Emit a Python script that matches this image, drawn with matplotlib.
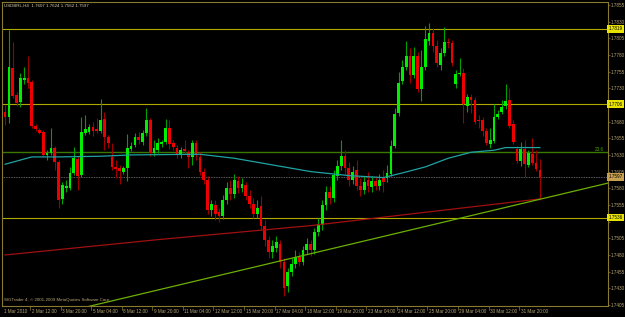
import numpy as np
import matplotlib.pyplot as plt
from matplotlib.transforms import blended_transform_factory

plt.rcParams['font.family'] = ['Liberation Sans', 'DejaVu Sans']

# chart data (USDBRL H4, March 2010)
symbol = "USDBRL,H4"
ohlc_text = "1.7607 1.7624 1.7562 1.7597"

opens = [1.7695, 1.7687, 1.7761, 1.7720, 1.7710, 1.7743, 1.7746, 1.7740, 1.7674, 1.7668,
         1.7665, 1.7630, 1.7633, 1.7641, 1.7620, 1.7564, 1.7581, 1.7581, 1.7603, 1.7624,
         1.7600, 1.7663, 1.7665, 1.7672, 1.7669, 1.7666, 1.7684, 1.7657, 1.7627, 1.7612,
         1.7611, 1.7605, 1.7611, 1.7639, 1.7645, 1.7657, 1.7650, 1.7663, 1.7683, 1.7633,
         1.7638, 1.7647, 1.7650, 1.7671, 1.7648, 1.7641, 1.7630, 1.7639, 1.7635, 1.7627,
         1.7648, 1.7627, 1.7605, 1.7593, 1.7548, 1.7555, 1.7545, 1.7539, 1.7563, 1.7581,
         1.7572, 1.7591, 1.7581, 1.7585, 1.7569, 1.7557, 1.7542, 1.7554, 1.7524, 1.7503,
         1.7485, 1.7491, 1.7497, 1.7470, 1.7434, 1.7455, 1.7467, 1.7477, 1.7470, 1.7488,
         1.7497, 1.7488, 1.7515, 1.7525, 1.7555, 1.7575, 1.7566, 1.7599, 1.7614, 1.7629,
         1.7611, 1.7593, 1.7608, 1.7584, 1.7578, 1.7593, 1.7582, 1.7591, 1.7584, 1.7597,
         1.7596, 1.7602, 1.7644, 1.7693, 1.7741, 1.7762, 1.7779, 1.7750, 1.7779, 1.7729,
         1.7762, 1.7801, 1.7813, 1.7794, 1.7765, 1.7783, 1.7800, 1.7798, 1.7737, 1.7752,
         1.7753, 1.7704, 1.7717, 1.7713, 1.7683, 1.7683, 1.7666, 1.7647, 1.7651, 1.7687,
         1.7695, 1.7704, 1.7713, 1.7677, 1.7639, 1.7621, 1.7639, 1.7615, 1.7632, 1.7618,
         1.7607]
highs = [1.7705, 1.7818, 1.7800, 1.7725, 1.7753, 1.7762, 1.7779, 1.7743, 1.7677, 1.7671,
         1.7668, 1.7638, 1.7671, 1.7644, 1.7623, 1.7590, 1.7593, 1.7612, 1.7642, 1.7629,
         1.7687, 1.7690, 1.7677, 1.7680, 1.7686, 1.7714, 1.7695, 1.7660, 1.7648, 1.7623,
         1.7615, 1.7614, 1.7662, 1.7650, 1.7663, 1.7665, 1.7668, 1.7701, 1.7686, 1.7653,
         1.7656, 1.7653, 1.7684, 1.7683, 1.7653, 1.7645, 1.7642, 1.7653, 1.7638, 1.7653,
         1.7653, 1.7635, 1.7611, 1.7599, 1.7563, 1.7563, 1.7551, 1.7570, 1.7590, 1.7593,
         1.7602, 1.7599, 1.7596, 1.7590, 1.7578, 1.7566, 1.7563, 1.7569, 1.7533, 1.7509,
         1.7503, 1.7509, 1.7503, 1.7476, 1.7461, 1.7476, 1.7488, 1.7485, 1.7494, 1.7506,
         1.7503, 1.7521, 1.7536, 1.7563, 1.7584, 1.7584, 1.7608, 1.7623, 1.7653, 1.7638,
         1.7620, 1.7614, 1.7623, 1.7596, 1.7599, 1.7605, 1.7599, 1.7599, 1.7602, 1.7608,
         1.7615, 1.7653, 1.7701, 1.7755, 1.7773, 1.7801, 1.7791, 1.7792, 1.7785, 1.7788,
         1.7824, 1.7828, 1.7821, 1.7803, 1.7791, 1.7822, 1.7806, 1.7803, 1.7758, 1.7776,
         1.7761, 1.7722, 1.7722, 1.7717, 1.7690, 1.7687, 1.7671, 1.7671, 1.7707, 1.7698,
         1.7713, 1.7737, 1.7731, 1.7683, 1.7644, 1.7650, 1.7653, 1.7638, 1.7656, 1.7638,
         1.7624]
lows = [1.7675, 1.7678, 1.7716, 1.7704, 1.7702, 1.7737, 1.7731, 1.7671, 1.7666, 1.7662,
        1.7627, 1.7623, 1.7630, 1.7608, 1.7551, 1.7557, 1.7575, 1.7578, 1.7600, 1.7578,
        1.7597, 1.7660, 1.7662, 1.7659, 1.7663, 1.7663, 1.7638, 1.7641, 1.7608, 1.7596,
        1.7587, 1.7602, 1.7591, 1.7636, 1.7642, 1.7647, 1.7645, 1.7659, 1.7629, 1.7629,
        1.7633, 1.7642, 1.7647, 1.7639, 1.7638, 1.7626, 1.7626, 1.7633, 1.7611, 1.7615,
        1.7623, 1.7600, 1.7587, 1.7542, 1.7539, 1.7533, 1.7530, 1.7534, 1.7557, 1.7563,
        1.7566, 1.7573, 1.7575, 1.7563, 1.7551, 1.7536, 1.7536, 1.7518, 1.7494, 1.7476,
        1.7476, 1.7485, 1.7461, 1.7419, 1.7425, 1.7449, 1.7461, 1.7464, 1.7465, 1.7482,
        1.7479, 1.7482, 1.7509, 1.7518, 1.7548, 1.7557, 1.7560, 1.7593, 1.7608, 1.7602,
        1.7584, 1.7587, 1.7578, 1.7569, 1.7572, 1.7575, 1.7575, 1.7578, 1.7578, 1.7575,
        1.7590, 1.7599, 1.7641, 1.7689, 1.7737, 1.7758, 1.7738, 1.7746, 1.7725, 1.7711,
        1.7758, 1.7795, 1.7785, 1.7762, 1.7758, 1.7779, 1.7791, 1.7764, 1.7731, 1.7749,
        1.7678, 1.7695, 1.7693, 1.7677, 1.7671, 1.7659, 1.7645, 1.7641, 1.7648, 1.7684,
        1.7692, 1.7699, 1.7671, 1.7647, 1.7618, 1.7614, 1.7597, 1.7612, 1.7615, 1.7606,
        1.7562]
closes = [1.7687, 1.7762, 1.7719, 1.7708, 1.7746, 1.7746, 1.7738, 1.7674, 1.7669, 1.7663,
          1.7630, 1.7633, 1.7641, 1.7620, 1.7563, 1.7585, 1.7584, 1.7603, 1.7626, 1.7599,
          1.7665, 1.7669, 1.7672, 1.7666, 1.7666, 1.7683, 1.7657, 1.7648, 1.7612, 1.7609,
          1.7606, 1.7611, 1.7641, 1.7644, 1.7657, 1.7653, 1.7663, 1.7683, 1.7633, 1.7641,
          1.7648, 1.7650, 1.7671, 1.7647, 1.7642, 1.7630, 1.7638, 1.7636, 1.7627, 1.7648,
          1.7630, 1.7605, 1.7593, 1.7548, 1.7557, 1.7542, 1.7539, 1.7563, 1.7581, 1.7572,
          1.7593, 1.7581, 1.7587, 1.7569, 1.7557, 1.7542, 1.7551, 1.7524, 1.7503, 1.7485,
          1.7494, 1.7500, 1.7470, 1.7431, 1.7455, 1.7467, 1.7477, 1.7470, 1.7488, 1.7497,
          1.7488, 1.7515, 1.7527, 1.7555, 1.7575, 1.7566, 1.7600, 1.7614, 1.7629, 1.7611,
          1.7593, 1.7605, 1.7584, 1.7578, 1.7590, 1.7584, 1.7591, 1.7584, 1.7593, 1.7590,
          1.7603, 1.7644, 1.7692, 1.7738, 1.7762, 1.7779, 1.7750, 1.7779, 1.7729, 1.7762,
          1.7804, 1.7813, 1.7794, 1.7768, 1.7783, 1.7800, 1.7798, 1.7768, 1.7752, 1.7753,
          1.7707, 1.7717, 1.7713, 1.7680, 1.7681, 1.7666, 1.7648, 1.7653, 1.7687, 1.7692,
          1.7702, 1.7711, 1.7674, 1.7650, 1.7621, 1.7639, 1.7617, 1.7633, 1.7618, 1.7609,
          1.7597]

time_labels = ["1 Mar 2010", "2 Mar 12:00", "3 Mar 20:00", "5 Mar 04:00", "8 Mar 12:00",
               "9 Mar 20:00", "11 Mar 04:00", "12 Mar 12:00", "15 Mar 20:00", "17 Mar 04:00",
               "18 Mar 12:00", "19 Mar 20:00", "23 Mar 04:00", "24 Mar 12:00", "25 Mar 20:00",
               "29 Mar 04:00", "30 Mar 12:00", "31 Mar 20:00"]
price_ticks = [1.7855, 1.7830, 1.7805, 1.7780, 1.7755, 1.7730, 1.7705, 1.7680, 1.7655, 1.7630,
               1.7605, 1.7580, 1.7555, 1.7530, 1.7505, 1.7480, 1.7455, 1.7430, 1.7405]

# horizontal levels, fibo line, bid
levels = [1.7819, 1.7706, 1.7536]
fib_level = 1.7634
bid = 1.7597

# moving averages (bar index, price) and trendline anchors
ma_fast_x = [0, 7, 14, 25, 33, 51, 60, 70, 80, 90, 99, 104, 110, 116, 122, 128, 131, 140]
ma_fast_y = [1.7616, 1.7627, 1.7627, 1.7628, 1.7630, 1.7631, 1.7625, 1.7615, 1.7605, 1.7599,
             1.7596, 1.7603, 1.7612, 1.7625, 1.7634, 1.7637, 1.7641, 1.7641]
ma_slow_x = [0, 40, 80, 116, 140]
ma_slow_y = [1.7480, 1.7503, 1.7524, 1.7548, 1.7564]
trend_x = [22, 158]
trend_y = [1.7403, 1.7588]

frame_col = '#8a7a30'
text_col = '#b8a674'
fs = 3.3

fig = plt.figure(figsize=(6.25, 3.17), dpi=100, facecolor='black')
ax = fig.add_axes([2 / 625, 11 / 317, 605.5 / 625, 304.5 / 317])
ax.set_facecolor('black')

o = np.array(opens)
h = np.array(highs)
l = np.array(lows)
c = np.array(closes)
x = np.arange(len(o))
up = c >= o

# levels
for lv in levels:
    ax.axhline(lv, color='#b0aa00', lw=0.8, zorder=1)
ax.axhline(fib_level, color='#3c7800', lw=1.0, zorder=1)
ax.axhline(bid, color='#7a7a7a', lw=0.6, ls=(0, (1, 1)), zorder=1)

# candles
ax.vlines(x, l, h, colors=np.where(up, '#00a000', '#9a0000'), lw=0.8, zorder=2)
ax.bar(x, np.maximum(np.abs(c - o), 0.0001), bottom=np.minimum(o, c), width=0.72,
       color=np.where(up, '#00ee00', '#ee0000'), linewidth=0, zorder=3)

# indicators
ax.plot(ma_fast_x, ma_fast_y, color='#1fa3a3', lw=0.9, zorder=4)
ax.plot(ma_slow_x, ma_slow_y, color='#a01010', lw=0.9, zorder=4)
ax.plot(trend_x, trend_y, color='#6cb000', lw=0.9, zorder=4)

ax.set_xlim(-0.8, 157.7)
ax.set_ylim(1.74035, 1.7860)

for sp in ax.spines.values():
    sp.set_color(frame_col)
    sp.set_linewidth(0.8)

# price scale on the right; labels hidden under the level boxes are left blank
ax.yaxis.tick_right()
ax.set_yticks(price_ticks)
tick_text = []
for p in price_ticks:
    hidden = any(abs(p - lv) < 0.0008 for lv in levels)
    tick_text.append("" if hidden else f"{p:.4f}")
ax.set_yticklabels(tick_text)
ax.tick_params(axis='y', colors=frame_col, labelcolor=text_col, labelsize=fs,
               length=1.5, width=0.5, pad=0.8)
ax.set_xticks([])

# highlighted price labels
ytrans = blended_transform_factory(ax.transAxes, ax.transData)
for lv in levels:
    ax.text(1.002, lv, f"{lv:.4f}", transform=ytrans, ha='left', va='center', fontsize=fs,
            color='black', clip_on=False, zorder=6,
            bbox=dict(boxstyle='square,pad=0.3', fc='#e8e400', ec='none'))
ax.text(1.002, bid, f"{bid:.4f}", transform=ytrans, ha='left', va='center', fontsize=fs,
        color='black', clip_on=False, zorder=6,
        bbox=dict(boxstyle='square,pad=0.3', fc='#c8a050', ec='none'))
ax.text(0.994, fib_level, "23.6", transform=ytrans, ha='right', va='bottom',
        fontsize=fs, color='#4aa000')

# time scale
xtrans = blended_transform_factory(ax.transData, ax.transAxes)
for k, lab in enumerate(time_labels):
    xb = 8 * k - 1.45
    if k == 0:
        xb = -0.8
    else:
        ax.plot([xb, xb], [0, -0.012], transform=xtrans, clip_on=False, color=frame_col, lw=0.5)
    ax.text(xb + 0.4, -0.01, lab, transform=xtrans, ha='left', va='top', fontsize=fs,
            color=text_col, clip_on=False)

ax.text(0.004, 0.992, f"{symbol}  {ohlc_text}", transform=ax.transAxes, ha='left', va='top',
        fontsize=3.2, color='#d8d0b0')
ax.text(0.003, 0.012, "SIGTrader 4, \u00a9 2001-2009 MetaQuotes Software Corp.",
        transform=ax.transAxes, ha='left', va='bottom', fontsize=3.2, color=text_col)

fig.savefig('out.png', dpi=100, facecolor='black')
